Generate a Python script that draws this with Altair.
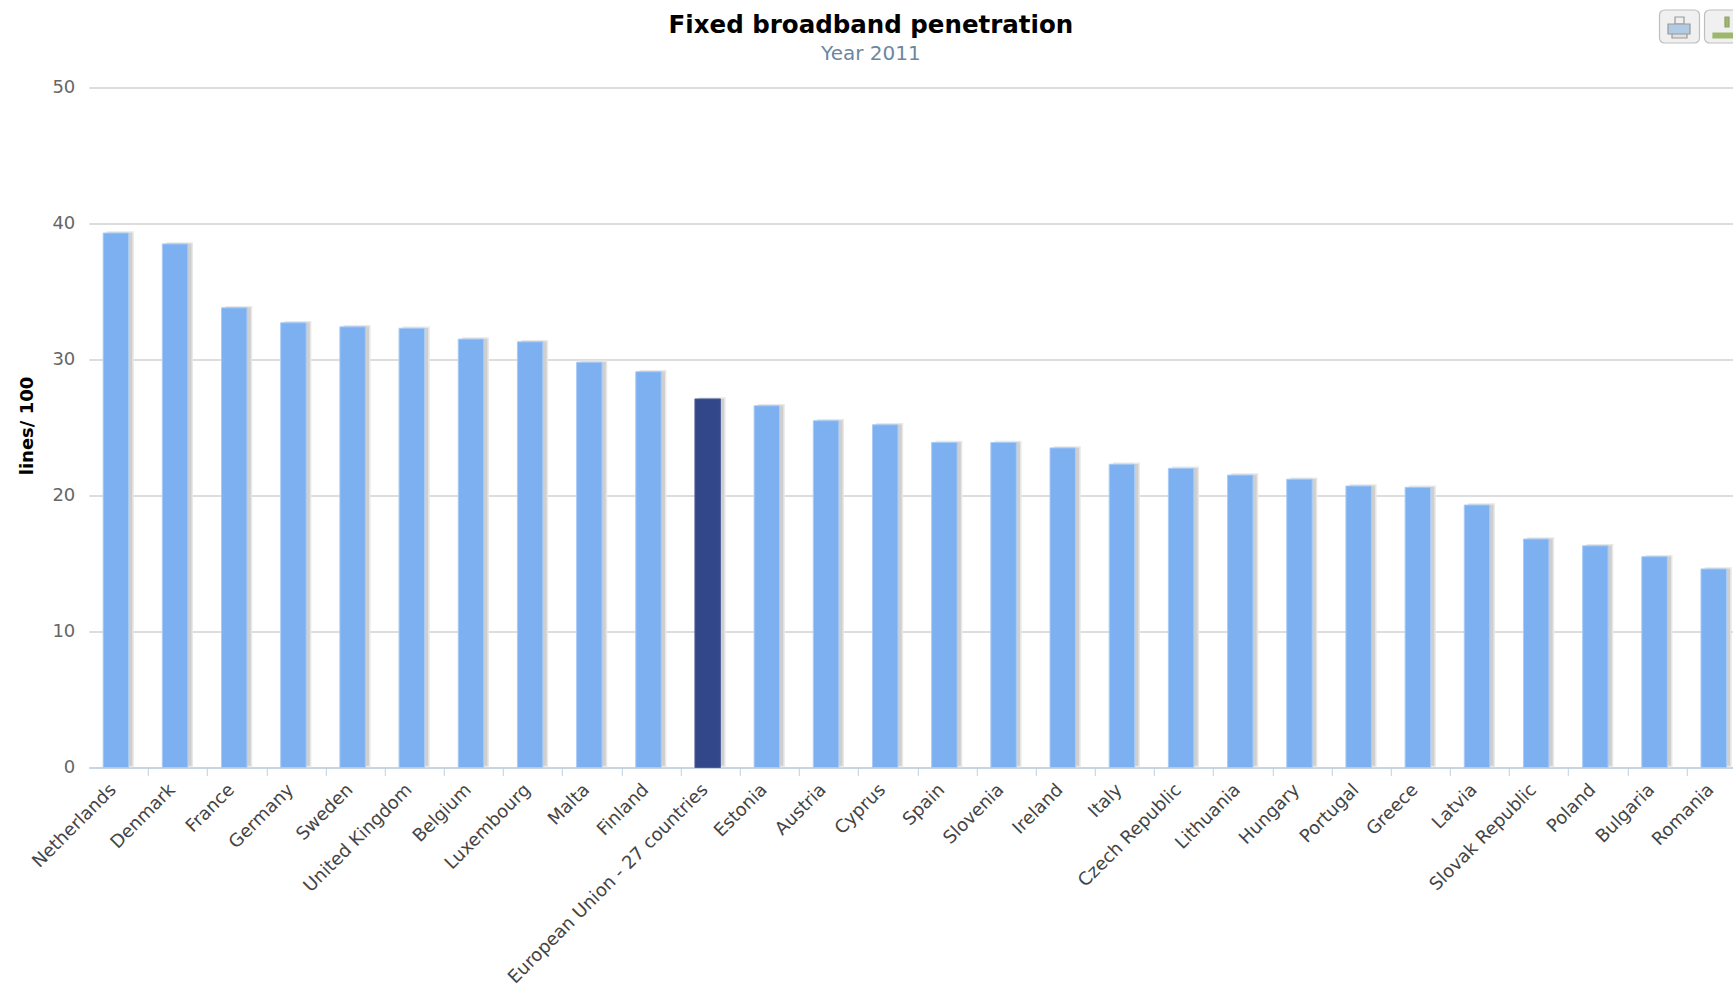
import altair as alt
import pandas as pd

# Fixed broadband lines per 100 inhabitants, 2011
countries = ["Netherlands", "Denmark", "France", "Germany", "Sweden", "United Kingdom",
             "Belgium", "Luxembourg", "Malta", "Finland", "European Union - 27 countries",
             "Estonia", "Austria", "Cyprus", "Spain", "Slovenia", "Ireland", "Italy",
             "Czech Republic", "Lithuania", "Hungary", "Portugal", "Greece", "Latvia",
             "Slovak Republic", "Poland", "Bulgaria", "Romania"]
penetration = [39.3, 38.5, 33.8, 32.7, 32.4, 32.3, 31.5, 31.3, 29.8, 29.1, 27.1,
               26.6, 25.5, 25.2, 23.9, 23.9, 23.5, 22.3, 22.0, 21.5, 21.2, 20.7,
               20.6, 19.3, 16.8, 16.3, 15.5, 14.6]
y_ticks = [0, 10, 20, 30, 40, 50]
aggregate_name = "European Union - 27 countries"

FONT = "DejaVu Sans"
table = pd.DataFrame({"country": countries, "value": penetration})

x_scale = alt.Scale(domain=countries, range=[0, 1657], paddingInner=0.57, paddingOuter=0.285)
y_scale = alt.Scale(domain=[0, 50], nice=False)

x_enc = alt.X("country:N", sort=None, scale=x_scale, title=None,
              axis=alt.Axis(labelAngle=-45, labelAlign="right", labelBaseline="middle",
                            labelFont=FONT, labelFontSize=18, labelColor="#444444",
                            labelPadding=11.4, labelOffset=-35, labelOverlap=False, labelLimit=400,
                            tickOffset=29.6, tickSize=8, tickColor="#C0D0E0",
                            domainColor="#C0D0E0", domainWidth=1.5, grid=False))
y_enc = alt.Y("value:Q", scale=y_scale, title="lines/ 100",
              axis=alt.Axis(values=y_ticks, grid=True, gridColor="#BCBCBC", gridWidth=1.2,
                            domain=False, ticks=False, labelFont=FONT, labelFontSize=18,
                            labelColor="#666666", labelPadding=14,
                            titleFont=FONT, titleFontSize=18, titleFontWeight="bold",
                            titleColor="#000000", titlePadding=15, titleY=338))

# Soft drop shadow sits just right of each bar
shadow = alt.Chart(table).mark_bar(xOffset=2, yOffset=-1, color="#CFCFCF",
                                   stroke="#E8E8E8", strokeWidth=1.5).encode(x=x_enc, y=y_enc)
bars = alt.Chart(table).mark_bar(xOffset=-2.5, strokeWidth=1).encode(
    x=x_enc, y=y_enc,
    color=alt.condition(alt.datum.country == aggregate_name,
                        alt.value("#32468A"), alt.value("#7CB0F0")),
    stroke=alt.condition(alt.datum.country == aggregate_name,
                         alt.value("#4A5C98"), alt.value("#A8CCF5")),
)


def widget(x0, x1, y0, y1, fill, stroke, radius=0):
    # One rectangular piece of the toolbar buttons, placed relative to the plot origin
    return alt.Chart(table.head(1)).mark_rect(
        fill=fill, stroke=stroke, strokeWidth=1.2, cornerRadius=radius, clip=False
    ).encode(x=alt.value(x0 - 88.8), x2=alt.value(x1 - 88.8),
             y=alt.value(y0 - 87.5), y2=alt.value(y1 - 87.5))


toolbar = [
    widget(1659.5, 1699.5, 10, 43, "#F0F0F0", "#BEBEBE", 5),
    widget(1704.5, 1744.5, 10, 43, "#F0F0F0", "#BEBEBE", 5),
    widget(1675, 1684, 17, 24, "#EFEFEF", "#999999"),
    widget(1672, 1687, 32, 38, "#E0E0E0", "#999999"),
    widget(1668, 1690, 24, 34, "#B2CBE4", "#999999"),
    widget(1725, 1729, 17, 27, "#9DB86A", "#8FA06A"),
    widget(1713, 1741, 33, 38, "#9DB86A", "#9DB86A"),
]

chart = alt.layer(shadow, bars, *toolbar).properties(
    width=1644.2,
    height=680,
    padding={"left": 88.8, "top": 87.5, "right": 0, "bottom": 220},
    autosize=alt.AutoSizeParams(type="none"),
    title=alt.TitleParams(
        "Fixed broadband penetration", subtitle="Year 2011", anchor="middle", frame="group",
        dx=-40, font=FONT, fontSize=24.5, fontWeight="bold", color="#000000",
        subtitleFont=FONT, subtitleFontSize=20, subtitleColor="#6D869F", subtitlePadding=5.5,
        offset=-55.5,
    ),
).configure_view(stroke=None)

chart.save("out.html", embed_options={"renderer": "svg", "actions": False})
